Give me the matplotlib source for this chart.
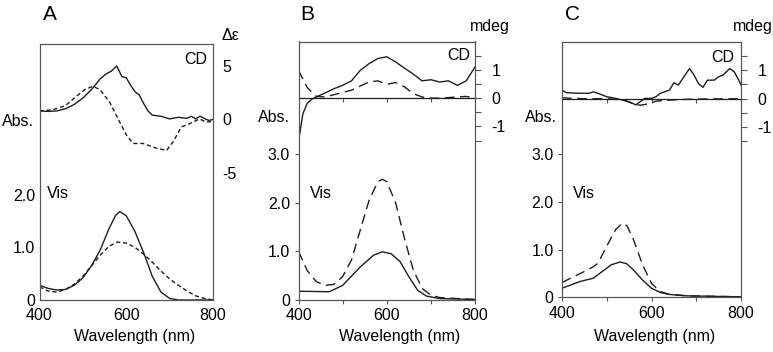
import matplotlib.pyplot as plt

plt.rcParams['font.family'] = ['Liberation Sans', 'DejaVu Sans']
plt.rcParams['font.size'] = 11.5
plt.rcParams['axes.unicode_minus'] = False

# ---- panel A ----
a_vis_wl = [400, 420, 440, 460, 480, 500, 520, 540, 560, 575, 585, 600, 620, 640, 660, 680, 700, 720, 800]
a_vis_solid = [0.28, 0.22, 0.19, 0.2, 0.28, 0.42, 0.65, 0.95, 1.35, 1.6, 1.68, 1.6, 1.3, 0.9, 0.45, 0.15, 0.03, 0.0, 0.0]
a_vis_dash_wl = [400, 420, 440, 460, 480, 500, 520, 540, 560, 580, 600, 620, 640, 660, 680, 700, 720, 740, 760, 780, 800]
a_vis_dash = [0.25, 0.17, 0.15, 0.2, 0.3, 0.45, 0.65, 0.85, 1.02, 1.1, 1.08, 1.0, 0.87, 0.72, 0.55, 0.4, 0.28, 0.17, 0.08, 0.03, 0.0]

a_cd_wl = [400, 420, 440, 460, 480, 500, 520, 540, 555, 565, 578, 583, 590, 600, 610, 620, 630, 640, 650, 660, 680, 700, 720, 740, 750, 760, 770, 780, 790, 800]
a_cd_solid = [0.8, 0.75, 0.8, 1.0, 1.4, 2.0, 2.8, 3.8, 4.3, 4.5, 5.0, 4.6, 4.0, 3.9, 3.2, 2.6, 2.3, 1.5, 0.8, 0.4, 0.3, 0.05, 0.2, 0.1, 0.3, 0.05, 0.3, 0.1, -0.1, 0.0]
a_cd_dash_wl = [400, 430, 460, 486, 505, 523, 539, 562, 585, 601, 616, 639, 670, 693, 708, 727, 746, 769, 784, 800]
a_cd_dash = [0.8, 0.9, 1.3, 2.2, 2.8, 3.1, 2.8, 1.6, -0.25, -1.5, -2.25, -2.25, -2.7, -2.9, -2.1, -0.7, -0.4, 0.05, -0.25, -0.2]

# ---- panel B ----
b_vis_wl = [400, 470, 500, 540, 570, 590, 610, 630, 650, 670, 690, 720, 800]
b_vis_solid = [0.18, 0.17, 0.3, 0.68, 0.92, 0.99, 0.95, 0.79, 0.48, 0.2, 0.08, 0.03, 0.01]
b_vis_dash_wl = [400, 420, 440, 460, 480, 500, 520, 540, 560, 580, 590, 600, 620, 640, 660, 680, 700, 720, 800]
b_vis_dash = [1.0, 0.6, 0.38, 0.3, 0.32, 0.48, 0.82, 1.44, 2.05, 2.43, 2.48, 2.43, 2.0, 1.27, 0.62, 0.24, 0.1, 0.05, 0.01]

b_cd_wl = [400, 405, 410, 420, 430, 440, 460, 480, 500, 520, 540, 560, 580, 600, 620, 640, 660, 680, 700, 720, 740, 760, 780, 800]
b_cd_solid = [-1.52, -1.04, -0.55, -0.18, -0.04, 0.04, 0.18, 0.33, 0.45, 0.61, 0.98, 1.22, 1.4, 1.46, 1.28, 1.06, 0.85, 0.61, 0.65, 0.57, 0.61, 0.45, 0.61, 1.1]
b_cd_dash_wl = [400, 420, 440, 460, 480, 500, 520, 540, 560, 580, 600, 620, 640, 660, 680, 700, 720, 760, 780, 800]
b_cd_dash = [0.98, 0.37, 0.06, 0.04, 0.12, 0.2, 0.28, 0.43, 0.57, 0.61, 0.49, 0.55, 0.4, 0.16, 0.04, 0.0, 0.0, 0.04, 0.06, 0.0]

# ---- panel C ----
c_vis_wl = [400, 420, 440, 470, 490, 510, 530, 545, 560, 580, 600, 620, 640, 680, 800]
c_vis_solid = [0.19, 0.26, 0.33, 0.4, 0.54, 0.68, 0.74, 0.7, 0.57, 0.36, 0.19, 0.1, 0.06, 0.03, 0.01]
c_vis_dash_wl = [400, 450, 470, 480, 500, 520, 535, 545, 560, 580, 600, 620, 640, 680, 800]
c_vis_dash = [0.31, 0.54, 0.64, 0.71, 1.07, 1.42, 1.55, 1.5, 1.2, 0.68, 0.29, 0.12, 0.06, 0.03, 0.01]

c_cd_wl = [400, 410, 440, 460, 470, 480, 500, 520, 540, 555, 565, 575, 585, 600, 610, 620, 640, 650, 660, 670, 685, 695, 705, 715, 725, 740, 750, 760, 775, 785, 795, 800]
c_cd_solid = [0.3, 0.21, 0.19, 0.19, 0.24, 0.19, 0.07, 0.01, -0.07, -0.14, -0.22, -0.1, 0.01, 0.01, 0.07, 0.19, 0.3, 0.56, 0.48, 0.71, 1.06, 0.83, 0.53, 0.4, 0.65, 0.65, 0.77, 0.83, 1.06, 0.94, 0.65, 0.48]
c_cd_dash_wl = [400, 450, 500, 540, 560, 575, 590, 610, 640, 680, 720, 800]
c_cd_dash = [0.03, 0.0, 0.0, -0.05, -0.19, -0.23, -0.19, -0.09, -0.05, -0.02, -0.01, 0.0]

W, H = 773, 352
fig = plt.figure(figsize=(W / 100, H / 100), dpi=100)
LINE = '#1e1e1e'
FRAME = '#555555'


def box(left, top, right, bottom):
    return [left / W, 1 - bottom / H, (right - left) / W, (bottom - top) / H]


def put(x, y, s, **kw):
    fig.text(x / W, 1 - y / H, s, **kw)


def panel(rect, abs_top, abs_ticks, cd_lim, cd_ticks, vis, cd, dash, ticks_on):
    ax = fig.add_axes(rect)
    ax.plot(vis[0], vis[1], color=LINE, lw=1.0)
    ax.plot(vis[2], vis[3], color=LINE, lw=1.0, dashes=dash)
    ax.set_xlim(400, 800)
    ax.set_ylim(0, abs_top)
    ax.set_xticks([400, 600, 800])
    ax.set_yticks(abs_ticks)
    ax.set_yticklabels(['0'] + ['%.1f' % t for t in abs_ticks[1:]])
    for s in ax.spines.values():
        s.set_color(FRAME)
        s.set_linewidth(0.8)
    cd_ax = ax.twinx()
    cd_ax.plot(cd[0], cd[1], color=LINE, lw=1.0)
    cd_ax.plot(cd[2], cd[3], color=LINE, lw=1.0, dashes=dash)
    cd_ax.set_ylim(*cd_lim)
    cd_ax.set_yticks(cd_ticks)
    cd_ax.set_yticklabels(['%g' % t for t in cd_ticks])
    for s in cd_ax.spines.values():
        s.set_color(FRAME)
        s.set_linewidth(0.8)
    if ticks_on:
        ax.set_xticks([500, 700], minor=True)
        ax.tick_params(which='both', direction='out', length=3, width=0.8,
                       color=FRAME, pad=3)
        cd_ax.set_yticks([-1.5, -0.5, 0.5, 1.5], minor=True)
        cd_ax.tick_params(axis='y', which='both', direction='out', length=4,
                          width=0.8, color=FRAME, pad=8)
        # zero line of the CD trace, with its own ticks
        zero = -cd_lim[0] / (cd_lim[1] - cd_lim[0])
        zax = cd_ax.secondary_xaxis(zero)
        zax.set_alignment('bottom')
        zax.set_xticks([500, 600, 700])
        zax.tick_params(direction='out', length=3, width=0.8, color=FRAME,
                        labelbottom=False, labeltop=False)
        zax.spines['bottom'].set_color(LINE)
        zax.spines['bottom'].set_linewidth(0.9)
    else:
        ax.tick_params(length=0, pad=3)
        ax.tick_params(axis='x', pad=6)
        cd_ax.tick_params(length=0, pad=7)
    return ax


panel(box(39.5, 44, 213, 300), 4.86, [0, 1.0, 2.0], (-16.9, 7.06), [-5, 0, 5],
      (a_vis_wl, a_vis_solid, a_vis_dash_wl, a_vis_dash),
      (a_cd_wl, a_cd_solid, a_cd_dash_wl, a_cd_dash), (3, 2), False)
panel(box(298.5, 41.5, 475, 300), 5.31, [0, 1.0, 2.0, 3.0], (-7.13, 2.0), [-1, 0, 1],
      (b_vis_wl, b_vis_solid, b_vis_dash_wl, b_vis_dash),
      (b_cd_wl, b_cd_solid, b_cd_dash_wl, b_cd_dash), (7, 4), True)
panel(box(562, 41.7, 741, 297.3), 5.35, [0, 1.0, 2.0, 3.0], (-6.97, 2.0), [-1, 0, 1],
      (c_vis_wl, c_vis_solid, c_vis_dash_wl, c_vis_dash),
      (c_cd_wl, c_cd_solid, c_cd_dash_wl, c_cd_dash), (7, 4), True)

for x, s in [(43, 'A'), (300, 'B'), (565, 'C')]:
    put(x, 14, s, fontsize=15, ha='left', va='center')
for x, y in [(2, 121), (258, 118), (525, 118)]:
    put(x, y, 'Abs.', ha='left', va='center')
for x in [47, 310, 573]:
    put(x, 193, 'Vis', ha='left', va='center')
for x, y in [(207, 60), (470, 56), (734, 57)]:
    put(x, y, 'CD', ha='right', va='center')
put(222, 35, 'Δε', ha='left', va='center')
put(470, 27, 'mdeg', ha='left', va='center')
put(733, 27, 'mdeg', ha='left', va='center')
for x in [135, 400, 655]:
    put(x, 337, 'Wavelength (nm)', ha='center', va='center')

fig.savefig('out.png', dpi=100)
